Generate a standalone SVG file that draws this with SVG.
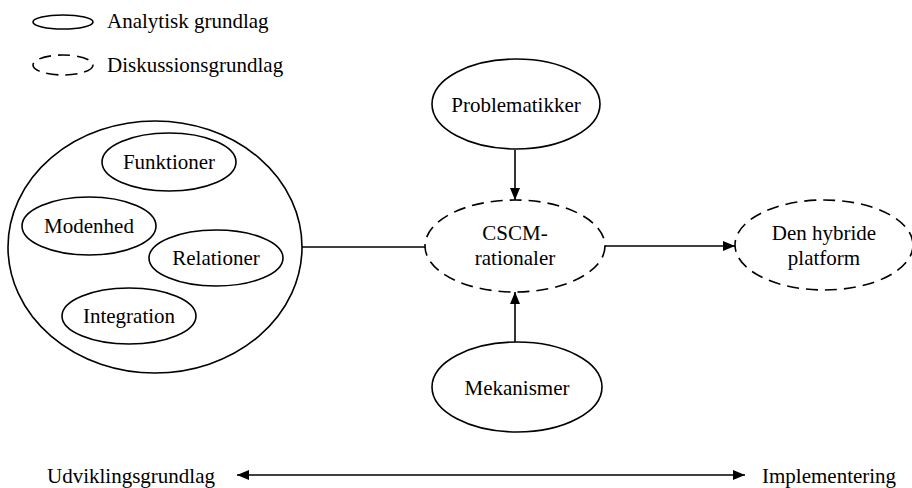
<svg xmlns="http://www.w3.org/2000/svg" width="912" height="488" viewBox="0 0 912 488">
<defs>
<marker id="ah" markerWidth="12" markerHeight="10" refX="12" refY="5" orient="auto" markerUnits="userSpaceOnUse">
<path d="M0,0 L12,5 L0,10 Z" fill="#000"/>
</marker>
<marker id="ahs" markerWidth="12" markerHeight="10" refX="0" refY="5" orient="auto" markerUnits="userSpaceOnUse">
<path d="M12,0 L0,5 L12,10 Z" fill="#000"/>
</marker>
</defs>
<style>
.s{fill:#fff;stroke:#000;stroke-width:1.6}
.d{fill:#fff;stroke:#000;stroke-width:1.6;stroke-dasharray:12 7}
.t{font-family:"Liberation Serif","Times New Roman",serif;font-size:21px;fill:#000}
.m{text-anchor:middle}
.c{stroke:#000;stroke-width:1.6;fill:none}
</style>
<rect width="912" height="488" fill="#fff"/>
<g id="legend">
<ellipse class="s" cx="63" cy="22" rx="30" ry="7"/>
<text class="t" x="107" y="28">Analytisk grundlag</text>
<ellipse class="d" cx="63" cy="65" rx="30" ry="10"/>
<text class="t" x="107" y="72">Diskussionsgrundlag</text>
</g>
<g id="connectors">
<line class="c" x1="302" y1="247" x2="426" y2="247"/>
<line class="c" x1="605" y1="246" x2="735" y2="246" marker-end="url(#ah)"/>
<line class="c" x1="515" y1="150" x2="515" y2="200" marker-end="url(#ah)"/>
<line class="c" x1="515" y1="342" x2="515" y2="292" marker-end="url(#ah)"/>
<line class="c" x1="237" y1="475" x2="745" y2="475" marker-start="url(#ahs)" marker-end="url(#ah)"/>
</g>
<g id="analytisk-grundlag">
<ellipse class="s" cx="155" cy="247" rx="147" ry="126"/>
</g>
<g id="funktioner">
<ellipse class="s" cx="169" cy="162" rx="67" ry="29"/>
<text class="t m" x="169" y="169">Funktioner</text>
</g>
<g id="modenhed">
<ellipse class="s" cx="89" cy="226" rx="67" ry="29"/>
<text class="t m" x="89" y="233">Modenhed</text>
</g>
<g id="relationer">
<ellipse class="s" cx="216" cy="258" rx="67" ry="28"/>
<text class="t m" x="216" y="265">Relationer</text>
</g>
<g id="integration">
<ellipse class="s" cx="129" cy="316" rx="67" ry="28"/>
<text class="t m" x="129" y="323">Integration</text>
</g>
<g id="problematikker">
<ellipse class="s" cx="516" cy="104" rx="84" ry="45"/>
<text class="t m" x="516" y="112">Problematikker</text>
</g>
<g id="cscm">
<ellipse class="d" cx="515" cy="246" rx="90" ry="46"/>
<text class="t m" x="515" y="240">CSCM-</text>
<text class="t m" x="515" y="265">rationaler</text>
</g>
<g id="hybride">
<ellipse class="d" cx="824" cy="245" rx="89" ry="45"/>
<text class="t m" x="824" y="240">Den hybride</text>
<text class="t m" x="824" y="265">platform</text>
</g>
<g id="mekanismer">
<ellipse class="s" cx="517" cy="387" rx="85" ry="45"/>
<text class="t m" x="517" y="395">Mekanismer</text>
</g>
<g id="axis">
<text class="t" x="47" y="483">Udviklingsgrundlag</text>
<text class="t" x="762" y="483">Implementering</text>
</g>
</svg>
